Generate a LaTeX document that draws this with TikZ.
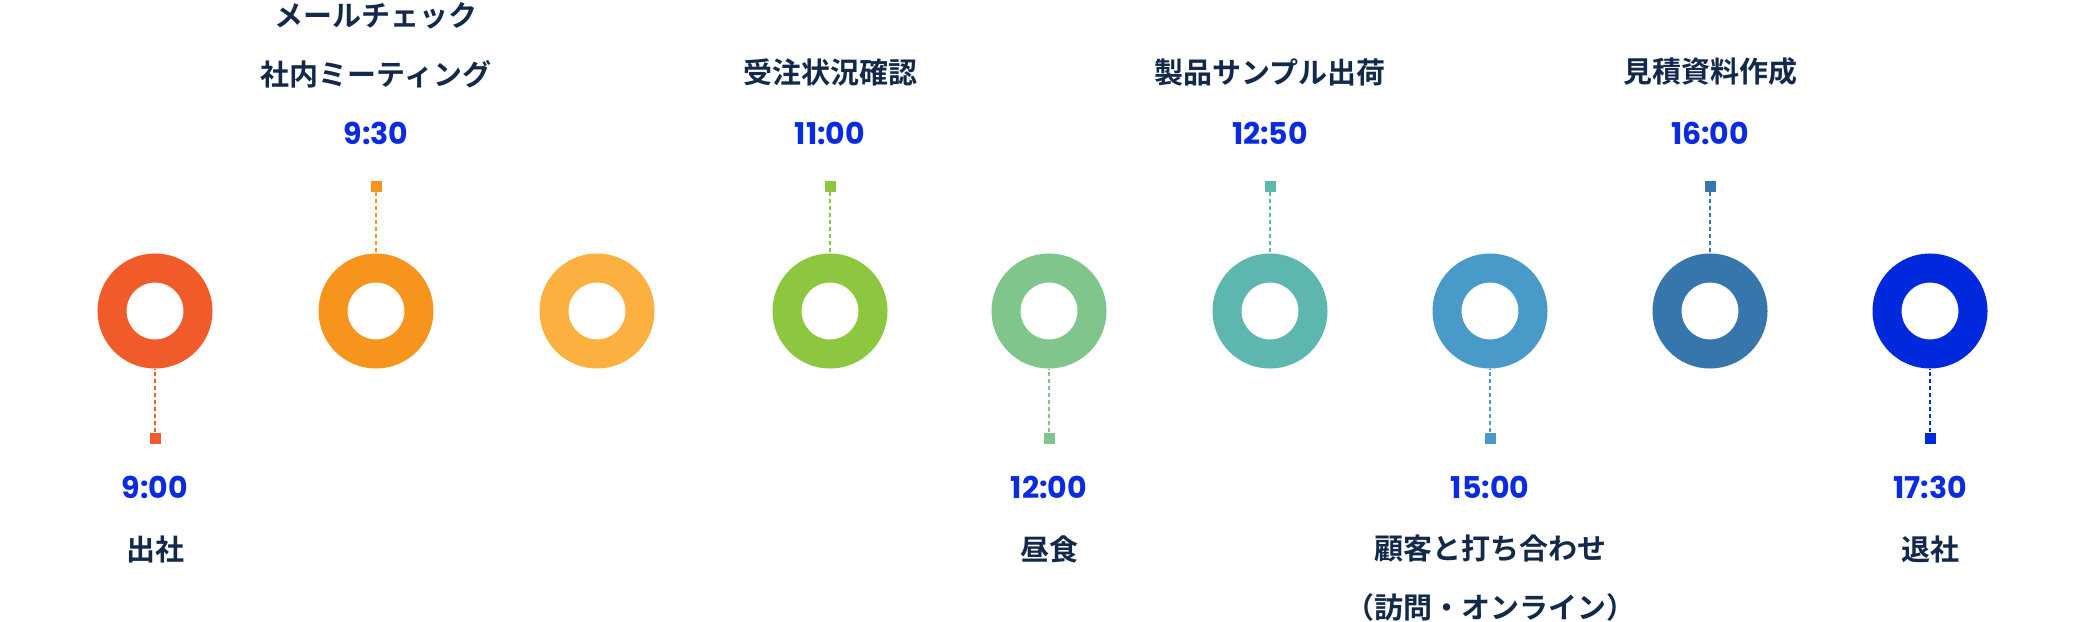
\documentclass[tikz,border=0pt]{standalone}
\usepackage{fontspec}
\newfontfamily\jp{Noto Sans CJK JP}[BoldFont={* Bold}]
\newfontfamily\tm{Poppins}
\definecolor{c1}{HTML}{F15A29}\definecolor{c2}{HTML}{F7941D}\definecolor{c3}{HTML}{FBB040}
\definecolor{c4}{HTML}{8DC63F}\definecolor{c5}{HTML}{80C68C}\definecolor{c6}{HTML}{5DB7AF}
\definecolor{c7}{HTML}{4A9AC9}\definecolor{c8}{HTML}{3775AD}\definecolor{c9}{HTML}{0028DC}
\definecolor{ink}{HTML}{13294B}\definecolor{tblue}{HTML}{0A2BE0}
\begin{document}
\begin{tikzpicture}[x=1pt,y=-1pt,
 ring/.style={circle,draw=#1,line width=29pt,minimum size=86pt,inner sep=0pt},
 sq/.style={rectangle,fill=#1,minimum size=11pt,inner sep=0pt},
 link/.style={draw=#1,line width=2pt,dash pattern=on 4pt off 3pt},
 tim/.style={font=\tm\bfseries\fontsize{30}{30}\selectfont,text=tblue,inner sep=0pt},
 lab/.style={font=\jp\bfseries\fontsize{29}{29}\selectfont,text=ink,inner sep=0pt}]
\useasboundingbox (0,0) rectangle (2082,621);
\foreach \i/\x in {1/155,2/376,3/597,4/830,5/1049,6/1270,7/1490,8/1710,9/1930}
  \node[ring=c\i] (r\i) at (\x,311) {};
% top items
\foreach \i/\x in {2/376,4/830,6/1270,8/1710}{
  \node[sq=c\i] (s\i) at (\x,186) {};
  \draw[link=c\i] (s\i) -- (r\i.north);
}
\foreach \i/\x in {1/155,5/1049,7/1490,9/1930}{
  \node[sq=c\i] (s\i) at (\x,438) {};
  \draw[link=c\i] (s\i) -- (r\i.south);
}
\node[tim] (t2) at (376,133) {9:30};
\node[lab] (l2b) at (376,74) {社内ミーティング};
\node[lab] (l2a) at (376,16) {メールチェック};
\node[tim] (t4) at (830,133) {11:00};
\node[lab] (l4) at (830,72) {受注状況確認};
\node[tim] (t6) at (1270,133) {12:50};
\node[lab] (l6) at (1270,72) {製品サンプル出荷};
\node[tim] (t8) at (1710,133) {16:00};
\node[lab] (l8) at (1710,72) {見積資料作成};
\node[tim] (t1) at (155,487) {9:00};
\node[lab] (l1) at (155,549) {出社};
\node[tim] (t5) at (1049,487) {12:00};
\node[lab] (l5) at (1049,549) {昼食};
\node[tim] (t7) at (1490,487) {15:00};
\node[lab] (l7a) at (1490,549) {顧客と打ち合わせ};
\node[lab] (l7b) at (1490,607) {（訪問・オンライン）};
\node[tim] (t9) at (1930,487) {17:30};
\node[lab] (l9) at (1930,549) {退社};
\end{tikzpicture}
\end{document}
